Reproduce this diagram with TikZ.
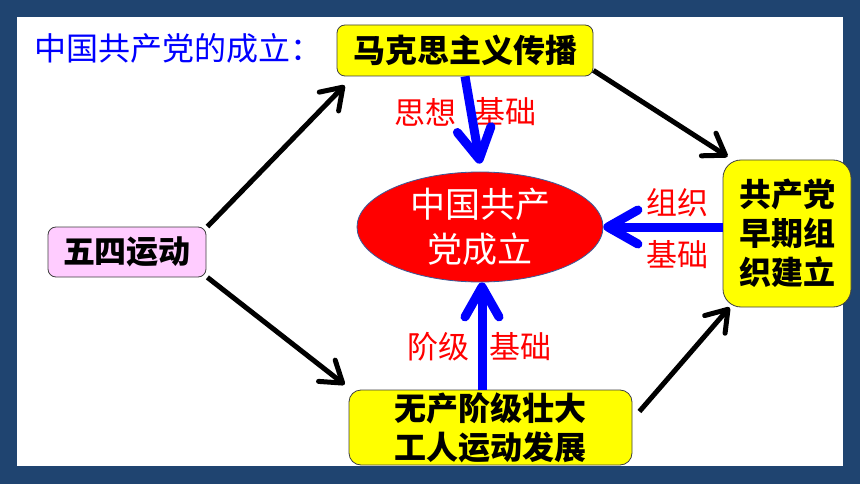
\documentclass[tikz,border=0pt]{standalone}
\usepackage{fontspec}
\setmainfont{Noto Sans CJK SC}
\usetikzlibrary{arrows.meta,shapes.geometric}
\definecolor{bgblue}{HTML}{1F4470}
\definecolor{boxyellow}{HTML}{FFFF00}
\definecolor{boxpink}{HTML}{FFCCFF}
\definecolor{ellred}{HTML}{FF0000}
\definecolor{ellline}{HTML}{3A5A9A}
\definecolor{titleblue}{HTML}{0000FF}
\definecolor{labelred}{HTML}{FF0000}
\definecolor{arrowblue}{HTML}{0000FF}
\tikzset{
  boxstyle/.style={draw=black!75, line width=0.8pt, inner sep=0pt, align=center,
    font=\bfseries\fontsize{32}{39}\selectfont},
  labelstyle/.style={text=labelred, inner sep=0pt, font=\fontsize{31}{36}\selectfont},
  blackarrow/.style={draw=black, line width=5pt,
    -{Straight Barb[length=20pt,width=27pt,round]}},
  bluearrow/.style={draw=arrowblue, line width=9pt,
    -{Straight Barb[length=30pt,width=34pt,round]}},
}
\begin{document}
\begin{tikzpicture}[x=1pt,y=-1pt]
\useasboundingbox (0,0) rectangle (860,484);
\fill[bgblue] (0,0) rectangle (860,484);
\fill[white] (17,17) rectangle (843,466);

\node[anchor=west, text=titleblue, inner sep=0pt, font=\fontsize{32}{36}\selectfont] (title) at (34,48) {中国共产党的成立：};

\node[boxstyle, fill=boxyellow, rounded corners=8pt, minimum width=256pt, minimum height=51pt] (top) at (465,50.5) {马克思主义传播};
\node[boxstyle, fill=boxpink, rounded corners=8pt, minimum width=158pt, minimum height=50pt] (left) at (127,252) {五四运动};
\node[boxstyle, fill=boxyellow, rounded corners=18pt, minimum width=128pt, minimum height=147pt] (right) at (787,233.5) {共产党\\早期组\\织建立};
\node[boxstyle, fill=boxyellow, rounded corners=12pt, minimum width=283pt, minimum height=75pt] (bottom) at (490.5,427.5) {无产阶级壮大\\工人运动发展};

\node[ellipse, draw=ellline, line width=0.8pt, fill=ellred, inner sep=0pt, minimum width=246pt, minimum height=110pt, text=white, align=center, font=\fontsize{35}{45}\selectfont] (ell) at (480,227) {中国共产\\党成立};

\node[labelstyle] (l1) at (425,112) {思想};
\node[labelstyle] (l2) at (505,112) {基础};
\node[labelstyle] (l3) at (677,203) {组织};
\node[labelstyle] (l4) at (677,255) {基础};
\node[labelstyle] (l5) at (438,347) {阶级};
\node[labelstyle] (l6) at (520,347) {基础};

\draw[bluearrow] (top.south) -- ([yshift=8pt]ell.north);
\draw[bluearrow] ([xshift=2pt]ell.south |- bottom.north) -- ([xshift=2pt]ell.south);
\draw[bluearrow] (right.west |- ell.east) -- (ell.east);

\draw[blackarrow] ([xshift=1pt]left.north east) -- ([xshift=8pt,yshift=-9pt]top.south west);
\draw[blackarrow] ([xshift=1pt]left.south east) -- ([xshift=-4pt,yshift=5pt]bottom.north west);
\draw[blackarrow] ([yshift=6pt]top.south east) -- ([xshift=5pt,yshift=3pt]right.north west);
\draw[blackarrow] ([xshift=7pt,yshift=16pt]bottom.east) -- ([xshift=7pt]right.south west);
\end{tikzpicture}
\end{document}
